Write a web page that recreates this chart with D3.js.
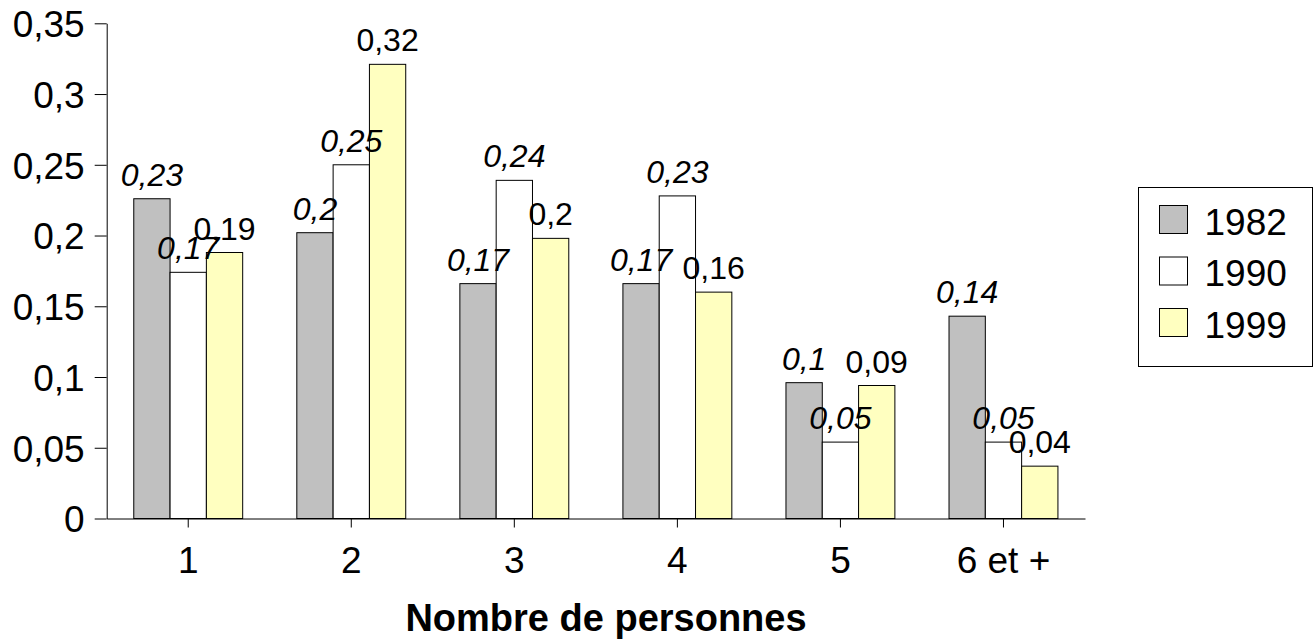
<!DOCTYPE html>
<html>
<head>
<meta charset="utf-8">
<script src="https://cdn.jsdelivr.net/npm/d3@7"></script>
<style>
  body { margin: 0; background: #fff; }
  svg { display: block; font-family: "Liberation Sans", Arial, sans-serif; }
</style>
</head>
<body>
<div id="chart"></div>
<script>
// data
var categories = ["1", "2", "3", "4", "5", "6 et +"];
var years = ["1982", "1990", "1999"];
var v1982 = [0.226, 0.202, 0.166, 0.166, 0.096, 0.143];
var v1990 = [0.174, 0.25, 0.239, 0.228, 0.054, 0.054];
var v1999 = [0.188, 0.321, 0.198, 0.16, 0.094, 0.037];
var yTicks = [0, 0.05, 0.1, 0.15, 0.2, 0.25, 0.3, 0.35];
var xTitle = "Nombre de personnes";

var colors = {"1982": "#c0c0c0", "1990": "#ffffff", "1999": "#ffffc0"};
var italic = {"1982": true, "1990": true, "1999": false};

var series = years.map(function(y, i) {
    return {key: y, values: [v1982, v1990, v1999][i]};
});

var width = 1316, height = 640;
var plotLeft = 106.7, plotRight = 1085, plotTop = 23.3, plotBottom = 518.5;

var svg = d3.select("#chart").append("svg")
    .attr("width", width)
    .attr("height", height);

var fmt = function(d) { return String(+d.toFixed(2)).replace(".", ","); };

var x0 = d3.scaleBand()
    .domain(categories)
    .range([plotLeft, plotRight])
    .paddingInner(0.332)
    .paddingOuter(0.166);

var x1 = d3.scaleBand()
    .domain(years)
    .range([0, x0.bandwidth()]);

var y = d3.scaleLinear()
    .domain([0, 0.35])
    .range([plotBottom, plotTop]);

// bars
var groups = svg.selectAll(".group")
    .data(categories)
    .enter().append("g")
    .attr("class", "group")
    .attr("transform", d => "translate(" + x0(d) + ",0)");

groups.selectAll("rect")
    .data((c, i) => series.map(s => ({key: s.key, value: s.values[i]})))
    .enter().append("rect")
    .attr("x", d => x1(d.key))
    .attr("y", d => y(d.value))
    .attr("width", x1.bandwidth())
    .attr("height", d => plotBottom - y(d.value))
    .attr("fill", d => colors[d.key])
    .attr("stroke", "#000")
    .attr("stroke-width", 1);

// axes
var yAxis = d3.axisLeft(y)
    .tickValues(yTicks)
    .tickFormat(fmt)
    .tickSize(12)
    .tickSizeOuter(0)
    .tickPadding(10);

svg.append("g")
    .attr("class", "axis y-axis")
    .attr("transform", "translate(" + plotLeft + ",0)")
    .call(yAxis);

var xAxis = d3.axisBottom(x0)
    .tickSize(9)
    .tickSizeOuter(0);

svg.append("g")
    .attr("class", "axis x-axis")
    .attr("transform", "translate(0," + plotBottom + ")")
    .call(xAxis);

svg.selectAll(".axis path, .axis line").attr("stroke", "#000");
svg.selectAll(".axis text")
    .attr("font-family", "'Liberation Sans', Arial, sans-serif")
    .attr("font-size", 37)
    .attr("fill", "#000");
svg.selectAll(".y-axis text")
    .attr("dy", "0.36em");
svg.selectAll(".x-axis text")
    .attr("y", 54.5)
    .attr("dy", null);

// value labels (1982 and 1990 in italic)
groups.selectAll(".label")
    .data((c, i) => series.map(s => ({key: s.key, value: s.values[i]})))
    .enter().append("text")
    .attr("class", "label")
    .attr("x", d => x1(d.key) + x1.bandwidth() / 2)
    .attr("y", d => y(d.value) - 13)
    .attr("text-anchor", "middle")
    .attr("font-size", 32)
    .attr("font-style", d => italic[d.key] ? "italic" : "normal")
    .text(d => fmt(d.value));

// axis title
svg.append("text")
    .attr("x", 606)
    .attr("y", 631)
    .attr("text-anchor", "middle")
    .attr("font-size", 38)
    .attr("font-weight", "bold")
    .text(xTitle);

// legend
var legend = svg.append("g").attr("class", "legend");
legend.append("rect")
    .attr("x", 1138.5)
    .attr("y", 187.5)
    .attr("width", 174)
    .attr("height", 179)
    .attr("fill", "#fff")
    .attr("stroke", "#000");

var items = legend.selectAll(".item")
    .data(years)
    .enter().append("g")
    .attr("class", "item")
    .attr("transform", (d, i) => "translate(1159.5," + (205.5 + i * 51.5) + ")");

items.append("rect")
    .attr("width", 28)
    .attr("height", 28)
    .attr("fill", d => colors[d])
    .attr("stroke", "#000");

items.append("text")
    .attr("x", 45)
    .attr("y", 29)
    .attr("font-size", 37)
    .text(d => d);
</script>
</body>
</html>
